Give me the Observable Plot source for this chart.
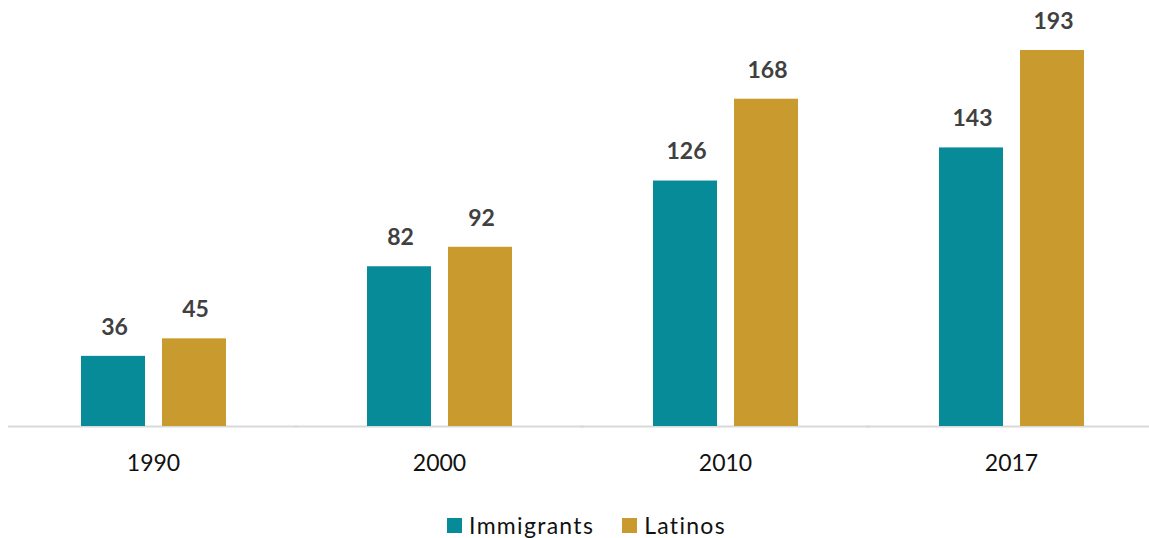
<!DOCTYPE html>
<html>
<head>
<meta charset="utf-8">
<script src="https://cdn.jsdelivr.net/npm/d3@7"></script>
<script src="https://cdn.jsdelivr.net/npm/@observablehq/plot@0.6"></script>
<style>
  html, body { margin: 0; padding: 0; background: #fff; }
  body { width: 1149px; height: 538px; overflow: hidden; font-family: Lato, "Open Sans", sans-serif; }
  #chart svg { display: block; }
  #legend { display: flex; justify-content: center; align-items: center; gap: 28px; margin-top: 21px; padding-left: 24px; font-size: 23px; line-height: 28px; color: #111; letter-spacing: 1.3px; }
  #legend .item { display: flex; align-items: center; gap: 7px; }
  #legend .sw { width: 15px; height: 15px; display: inline-block; flex: none; }
</style>
</head>
<body>
<div id="chart"></div>
<div id="legend"></div>
<script>
const years = ["1990", "2000", "2010", "2017"];
const series = ["Immigrants", "Latinos"];
const immigrants = [36, 82, 126, 143];
const latinos = [45, 92, 168, 193];
const colors = ["#078b99", "#c99b2f"];

const data = [];
years.forEach((y, i) => {
  data.push({year: y, series: series[0], value: immigrants[i]});
  data.push({year: y, series: series[1], value: latinos[i]});
});

const chart = Plot.plot({
  width: 1149,
  height: 490,
  marginLeft: 8,
  marginRight: 0,
  marginTop: 0,
  marginBottom: 64,
  style: {fontFamily: "Lato, 'Open Sans', sans-serif", background: "#fff", overflow: "hidden"},
  fx: {domain: years, paddingInner: 0.49, paddingOuter: 0.245, range: [8.5, 1154.5], label: null},
  x: {domain: series, paddingInner: 0.21, paddingOuter: 0, axis: null},
  y: {domain: [0, 193], range: [426, 50], axis: null},
  color: {domain: series, range: colors},
  marks: [
    Plot.ruleY([0], {stroke: "#d9d9d9", strokeWidth: 2, insetLeft: -72, insetRight: -72}),
    Plot.barY(data, {fx: "year", x: "series", y: "value", fill: "series"}),
    Plot.text(data, {fx: "year", x: "series", y: "value", text: d => String(d.value),
      dy: -29, dx: 1, lineAnchor: "middle", fontSize: 23, fontWeight: "bold", fill: "#404040",
      style: "letter-spacing:2.4px"}),
    Plot.axisFx({anchor: "bottom", tickSize: 0, tickPadding: 28, fontSize: 23, fill: "#111", label: null, lineAnchor: "top"})
  ]
});
document.getElementById("chart").appendChild(chart);

const legend = document.getElementById("legend");
series.forEach((s, i) => {
  const it = document.createElement("div");
  it.className = "item";
  const sw = document.createElement("span");
  sw.className = "sw";
  sw.style.background = colors[i];
  const t = document.createElement("span");
  t.textContent = s;
  it.appendChild(sw); it.appendChild(t);
  legend.appendChild(it);
});
</script>
</body>
</html>
